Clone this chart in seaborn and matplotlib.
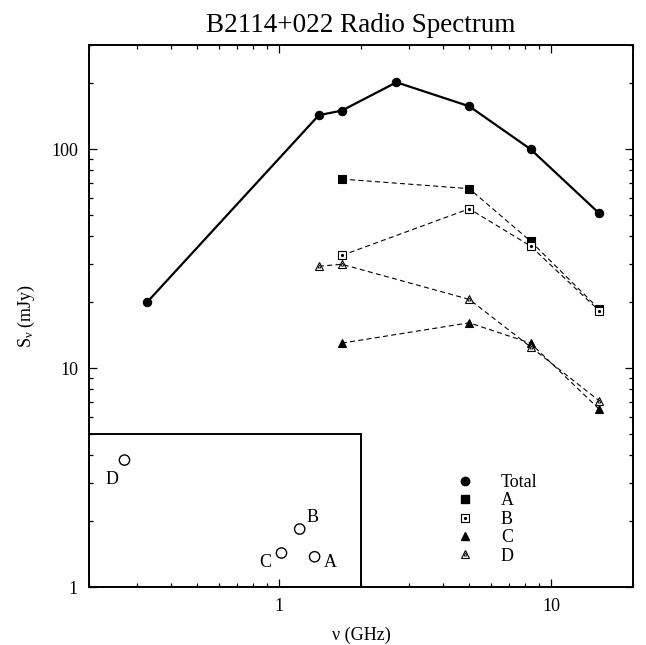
import matplotlib
matplotlib.use("Agg")
import matplotlib.pyplot as plt
from matplotlib.lines import Line2D
from matplotlib.patches import Rectangle
from matplotlib.legend_handler import HandlerTuple
from matplotlib.ticker import LogLocator, NullFormatter, FuncFormatter
import seaborn as sns

# spectrum data (GHz, mJy)
freq_total = [0.327, 1.4, 1.7, 2.7, 5.0, 8.4, 15.0]
flux_total = [20.0, 143.0, 150.0, 202.0, 157.0, 100.0, 51.0]

freq_comp = [1.7, 5.0, 8.4, 15.0]
flux_a = [73.0, 66.0, 38.0, 18.6]
flux_b = [32.7, 53.4, 36.1, 18.3]
flux_c = [13.0, 16.1, 13.0, 6.5]

freq_d = [1.4, 1.7, 5.0, 8.4, 15.0]
flux_d = [29.2, 29.8, 20.6, 12.5, 7.1]

# little sketch of the components in the lower left box
sketch_labels = ["D", "B", "C", "A"]
sketch_x = [0.27, 1.19, 1.02, 1.35]
sketch_y = [3.8, 1.84, 1.43, 1.375]
box_x = [0.2, 2.0]
box_y = [1.0, 5.0]

sns.set_theme(style="ticks")
plt.rcParams["font.family"] = ["Liberation Serif", "DejaVu Serif"]
plt.rcParams["mathtext.fontset"] = "custom"
plt.rcParams["mathtext.rm"] = "Liberation Serif"
plt.rcParams["mathtext.it"] = "Liberation Serif:italic"
plt.rcParams["text.color"] = "black"
plt.rcParams["axes.labelcolor"] = "black"

fig = plt.figure(figsize=(6.46, 6.45), dpi=100)
ax = fig.add_axes([0.1378, 0.0899, 0.8421, 0.8408])
ax.set_xscale("log")
ax.set_yscale("log")

dash = (0, (4.5, 3))

sns.lineplot(x=freq_total, y=flux_total, ax=ax, color="black", lw=1.6,
             marker="o", ms=6, mfc="black", mec="black", mew=0.8)
sns.lineplot(x=freq_comp, y=flux_a, ax=ax, color="black", lw=0.8, linestyle=dash,
             marker="s", ms=5.5, mfc="black", mec="black", mew=0.8)
sns.lineplot(x=freq_comp, y=flux_b, ax=ax, color="black", lw=0.8, linestyle=dash,
             marker="s", ms=5.5, mfc="white", mec="black", mew=0.8)
sns.lineplot(x=freq_comp, y=flux_c, ax=ax, color="black", lw=0.8, linestyle=dash,
             marker="^", ms=5.5, mfc="black", mec="black", mew=0.8)
sns.lineplot(x=freq_d, y=flux_d, ax=ax, color="black", lw=0.8, linestyle=dash,
             marker="^", ms=5.5, mfc="white", mec="black", mew=0.8)
# inner marks of the open symbols
ax.plot(freq_comp, flux_b, ls="none", marker="o", ms=1.3, color="black")
ax.plot(freq_d, flux_d, ls="none", marker="^", ms=2.2, mfc="none", mec="black", mew=0.6)

# component sketch
ax.add_patch(Rectangle((box_x[0], box_y[0]), box_x[1] - box_x[0], box_y[1] - box_y[0],
                       fill=False, lw=1.4, ec="black", zorder=3))
sns.scatterplot(x=sketch_x, y=sketch_y, ax=ax, marker="o", s=55,
                facecolor="none", edgecolor="black", linewidth=1.0)
offsets = {"D": (-9, -14), "B": (9.5, 8), "C": (-12, -6.5), "A": (11, -4)}
for lab, xv, yv in zip(sketch_labels, sketch_x, sketch_y):
    ax.annotate(lab, (xv, yv), xytext=offsets[lab], textcoords="offset points",
                ha="center", va="center", fontsize=13)

ax.set_xlim(0.2, 20)
ax.set_ylim(1, 300)
ax.xaxis.set_major_locator(LogLocator(base=10))
ax.yaxis.set_major_locator(LogLocator(base=10))
fmt = FuncFormatter(lambda v, _: f"{v:g}")
ax.xaxis.set_major_formatter(fmt)
ax.yaxis.set_major_formatter(fmt)
ax.xaxis.set_minor_formatter(NullFormatter())
ax.yaxis.set_minor_formatter(NullFormatter())
ax.tick_params(which="both", direction="in", top=True, right=True,
               colors="black", width=0.9, labelsize=13, pad=8)
ax.tick_params(which="major", length=6)
ax.tick_params(which="minor", length=3.2)
for sp in ax.spines.values():
    sp.set_linewidth(1.4)
    sp.set_color("black")

ax.set_xlabel("ν (GHz)", fontsize=13, labelpad=8)
ax.set_ylabel(r"S$_{\mathrm{ν}}$ (mJy)", fontsize=13, labelpad=10)
ax.set_title("B2114+022 Radio Spectrum", fontsize=19.5, pad=9)

# legend: markers only
h_total = Line2D([], [], ls="none", marker="o", ms=6, color="black")
h_a = Line2D([], [], ls="none", marker="s", ms=5.5, color="black")
h_b = (Line2D([], [], ls="none", marker="s", ms=5.5, mfc="white", mec="black", mew=0.8),
       Line2D([], [], ls="none", marker="o", ms=1.3, color="black"))
h_c = Line2D([], [], ls="none", marker="^", ms=5.5, color="black")
h_d = (Line2D([], [], ls="none", marker="^", ms=5.5, mfc="white", mec="black", mew=0.8),
       Line2D([], [], ls="none", marker="^", ms=2.2, mfc="none", mec="black", mew=0.6))
ax.legend([h_total, h_a, h_b, h_c, h_d], ["Total", "A", "B", "C", "D"],
          handler_map={tuple: HandlerTuple(ndivide=1)},
          loc="center left", bbox_to_anchor=(0.6746, 0.1248), frameon=False,
          fontsize=13, handlelength=1.0, handletextpad=1.48, labelspacing=0.08,
          borderpad=0, borderaxespad=0)

fig.savefig("out.png", dpi=100)
